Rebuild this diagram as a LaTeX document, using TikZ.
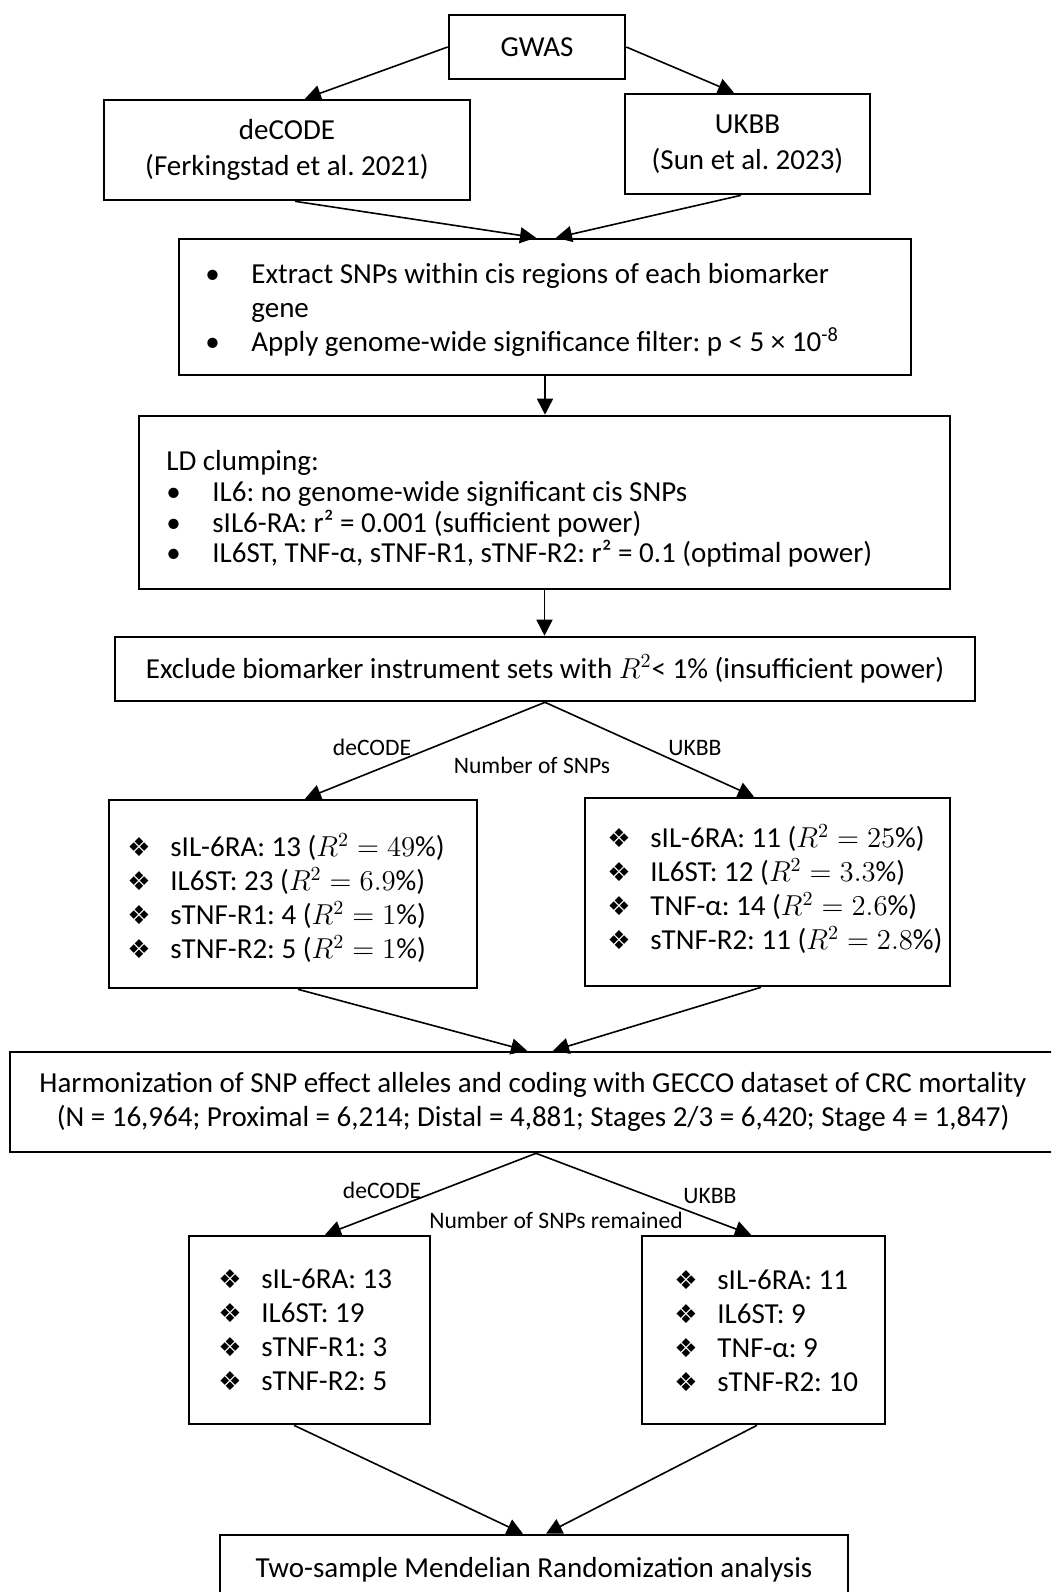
\documentclass[tikz,border=0pt]{standalone}
\usepackage{fontspec}
\setmainfont{Carlito}
\newfontfamily\dvfont{DejaVu Sans}
\usetikzlibrary{arrows.meta,calc}
\frenchspacing
\newcommand{\bul}{\makebox[23pt][l]{•}}
\newcommand{\dmd}{\makebox[21.5pt][l]{\dvfont\fontsize{13}{13}\selectfont ❖}}
\begin{document}
\begin{tikzpicture}[x=0.5pt,y=-0.5pt,
  box/.style 2 args={draw, line width=1.3pt, minimum width=#1, minimum height=#2, inner sep=0pt, align=center},
  txt/.style={font=\fontsize{14.5pt}{17pt}\selectfont},
  txtB/.style={font=\fontsize{14.5pt}{18pt}\selectfont},
  txtLD/.style={font=\fontsize{14.5pt}{15.3pt}\selectfont},
  list/.style={txt, anchor=west, align=left, inner sep=0pt},
  lab/.style={font=\fontsize{11.8pt}{14pt}\selectfont, inner sep=0pt},
  arr/.style={-{Triangle[length=8pt,width=8pt]}, line width=0.8pt}]
\useasboundingbox (0,0) rectangle (1051,1592);
\clip (0,0) rectangle (1051,1592);
\fill[white] (0,0) rectangle (1051,1592);

% boxes
\node[box={88pt}{32pt}, txt] (gwas) at (537,47) {GWAS};
\node[box={183pt}{50pt}, txtB] (decode) at (287,150) {deCODE\\(Ferkingstad et al. 2021)};
\node[box={122.5pt}{50pt}, txtB] (ukbb) at (747.5,144) {UKBB\\(Sun et al. 2023)};

\node[box={366pt}{68pt}] (extract) at (545,307) {};
\node[list] (extracttxt) at (205,310) {\bul Extract SNPs within cis regions of each biomarker\\\hspace*{23pt}gene\\\bul Apply genome-wide significance filter: p < 5 × 10\textsuperscript{-8}};

\node[box={405.5pt}{86.5pt}] (ld) at (544.5,502.5) {};
\node[list, txtLD] (ldtxt) at (166,509) {LD clumping:\\\bul IL6: no genome-wide significant cis SNPs\\\bul sIL6-RA: r² = 0.001 (sufficient power)\\\bul IL6ST, TNF-α, sTNF-R1, sTNF-R2: r² = 0.1 (optimal power)};

\node[box={430pt}{32pt}, txt] (exclude) at (545,669) {Exclude biomarker instrument sets with $R^2$< 1\% (insufficient power)};

\node[box={184pt}{94pt}] (dec2) at (293,894) {};
\node[list] (dec2txt) at (127,898) {\dmd sIL-6RA: 13 ($R^2 = 49\%$)\\\dmd IL6ST: 23 ($R^2 = 6.9\%$)\\\dmd sTNF-R1: 4 ($R^2 = 1\%$)\\\dmd sTNF-R2: 5 ($R^2 = 1\%$)};

\node[box={182.5pt}{94pt}] (uk2) at (767.5,892) {};
\node[list] (uk2txt) at (607,889) {\dmd sIL-6RA: 11 ($R^2 = 25\%$)\\\dmd IL6ST: 12 ($R^2 = 3.3\%$)\\\dmd TNF-α: 14 ($R^2 = 2.6\%$)\\\dmd sTNF-R2: 11 ($R^2 = 2.8\%$)};

\node[box={523pt}{50pt}, txt] (harm) at (533,1102) {Harmonization of SNP effect alleles and coding with GECCO dataset of CRC mortality\\(N = 16,964; Proximal = 6,214; Distal = 4,881; Stages 2/3 = 6,420; Stage 4 = 1,847)};

\node[box={120.5pt}{94pt}] (dec3) at (309.5,1330) {};
\node[list] (dec3txt) at (218,1330) {\dmd sIL-6RA: 13\\\dmd IL6ST: 19\\\dmd sTNF-R1: 3\\\dmd sTNF-R2: 5};

\node[box={121.5pt}{94pt}] (uk3) at (763.5,1330) {};
\node[list] (uk3txt) at (674,1331) {\dmd sIL-6RA: 11\\\dmd IL6ST: 9\\\dmd TNF-α: 9\\\dmd sTNF-R2: 10};

\node[box={314pt}{35pt}, txt] (final) at (534,1570) {Two-sample Mendelian Randomization analysis};

% labels
\node[lab] (l1) at (372,747) {deCODE};
\node[lab] (l2) at (695,748) {UKBB};
\node[lab] (l3) at (532,765) {Number of SNPs};
\node[lab] (l4) at (382,1190) {deCODE};
\node[lab] (l5) at (710,1196) {UKBB};
\node[lab] (l6) at (556,1220) {Number of SNPs remained};

% connectors
\draw[arr] (gwas.west) -- ($(decode.north)+(18,0)$);
\draw[arr] (gwas.east) -- ($(ukbb.north)+(-13.5,0)$);
\draw[arr] ($(decode.south)+(8,0)$) -- ($(extract.north)+(-9,0)$);
\draw[arr] ($(ukbb.south)+(-6.5,0)$) -- ($(extract.north)+(11,0)$);
\draw[arr] (extract.south) -- (extract.south |- ld.north);
\draw[arr] (ld.south) -- (ld.south |- exclude.north);
\draw[arr] (exclude.south) -- ($(dec2.north)+(12,0)$);
\draw[arr] (exclude.south) -- ($(uk2.north)+(-13.5,0)$);
\draw[arr] ($(dec2.south)+(5,0)$) -- ($(harm.north)+(-6,0)$);
\draw[arr] ($(uk2.south)+(-6.5,0)$) -- ($(harm.north)+(20,0)$);
\draw[arr] ($(harm.south)+(3,0)$) -- ($(dec3.north)+(15.5,0)$);
\draw[arr] ($(harm.south)+(3,0)$) -- ($(uk3.north)+(-12.5,0)$);
\draw[arr] ($(dec3.south)+(-15.5,0)$) -- ($(final.north)+(-11,0)$);
\draw[arr] ($(uk3.south)+(-6.5,0)$) -- ($(final.north)+(12,0)$);
\end{tikzpicture}
\end{document}
